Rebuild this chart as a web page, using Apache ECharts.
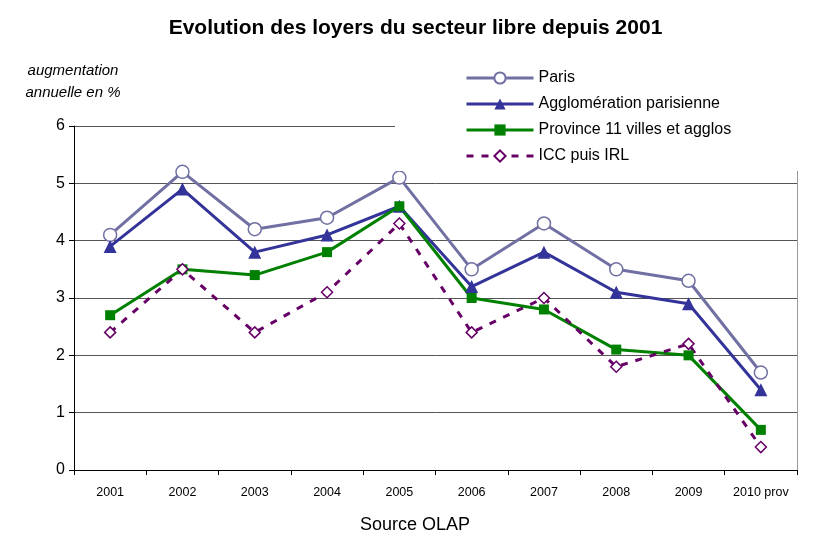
<!DOCTYPE html>
<html>
<head>
<meta charset="utf-8">
<script src="https://cdn.jsdelivr.net/npm/echarts@6.0.0/dist/echarts.min.js"></script>
<style>
  html, body { margin: 0; padding: 0; background: #fff; }
  #chart { width: 831px; height: 536px; }
</style>
</head>
<body>
<div id="chart"></div>
<script>
var years = ['2001', '2002', '2003', '2004', '2005', '2006', '2007', '2008', '2009', '2010 prov'];
var paris = [4.1, 5.2, 4.2, 4.4, 5.1, 3.5, 4.3, 3.5, 3.3, 1.7];
var agglo = [3.9, 4.9, 3.8, 4.1, 4.6, 3.2, 3.8, 3.1, 2.9, 1.4];
var province = [2.7, 3.5, 3.4, 3.8, 4.6, 3.0, 2.8, 2.1, 2.0, 0.7];
var iccIrl = [2.4, 3.5, 2.4, 3.1, 4.3, 2.4, 3.0, 1.8, 2.2, 0.4];

var font = 'Liberation Sans, Arial, sans-serif';
var chart = echarts.init(document.getElementById('chart'));

chart.setOption({
  backgroundColor: '#fff',
  animation: false,
  textStyle: { fontFamily: font },
  title: [
    {
      text: 'Evolution des loyers du secteur libre depuis 2001',
      left: 'center',
      top: 13,
      textStyle: { fontSize: 21, fontWeight: 'bold', color: '#000', fontFamily: font }
    },
    {
      text: 'augmentation\nannuelle en %',
      left: 68,
      textAlign: 'center',
      top: 55,
      textStyle: { fontSize: 15, fontStyle: 'italic', fontWeight: 'normal', color: '#000', lineHeight: 22, fontFamily: font }
    },
    {
      text: 'Source OLAP',
      left: 410,
      textAlign: 'center',
      top: 511,
      textStyle: { fontSize: 18, fontWeight: 'normal', color: '#000', fontFamily: font }
    }
  ],
  legend: {
    orient: 'vertical',
    left: 395,
    top: 55,
    padding: [15, 120, 7, 70],
    backgroundColor: '#fff',
    itemWidth: 67,
    itemHeight: 14,
    itemGap: 10,
    lineStyle: { width: 3 },
    textStyle: { fontSize: 16, color: '#000', fontFamily: font }
  },
  grid: { left: 74, right: 34, top: 126, bottom: 66 },
  xAxis: {
    type: 'category',
    data: years,
    boundaryGap: true,
    axisLine: { lineStyle: { color: '#000', width: 1 } },
    axisTick: { show: true, length: 5, interval: 0, lineStyle: { color: '#000' } },
    axisLabel: { fontSize: 12.5, color: '#000', margin: 16, interval: 0, fontFamily: font }
  },
  yAxis: [
    {
      type: 'value',
      min: 0,
      max: 6,
      interval: 1,
      axisLine: { show: true, lineStyle: { color: '#000' } },
      axisTick: { show: true, length: 5, lineStyle: { color: '#000' } },
      axisLabel: { fontSize: 16, color: '#000', margin: 9, fontFamily: font },
      splitLine: { lineStyle: { color: '#555', width: 1 } }
    },
    {
      type: 'value',
      min: 0,
      max: 6,
      interval: 1,
      position: 'right',
      axisLine: { show: true, lineStyle: { color: '#999' } },
      axisTick: { show: false },
      axisLabel: { show: false },
      splitLine: { show: false }
    }
  ],
  series: [
    {
      name: 'Paris',
      type: 'line',
      data: paris,
      symbol: 'circle',
      symbolSize: 13,
      lineStyle: { color: '#7070a3', width: 3 },
      itemStyle: { color: '#fff', borderColor: '#7070a3', borderWidth: 1.5 }
    },
    {
      name: 'Agglomération parisienne',
      type: 'line',
      data: agglo,
      symbol: 'triangle',
      symbolSize: 13,
      lineStyle: { color: '#333399', width: 3 },
      itemStyle: { color: '#333399' }
    },
    {
      name: 'Province 11 villes et agglos',
      type: 'line',
      data: province,
      symbol: 'rect',
      symbolSize: 10,
      lineStyle: { color: '#008000', width: 3 },
      itemStyle: { color: '#008000' }
    },
    {
      name: 'ICC puis IRL',
      type: 'line',
      data: iccIrl,
      symbol: 'diamond',
      symbolSize: 11,
      lineStyle: { color: '#660066', width: 3, type: [7, 8] },
      itemStyle: { color: '#fff', borderColor: '#660066', borderWidth: 1.5 }
    }
  ]
});
</script>
</body>
</html>
